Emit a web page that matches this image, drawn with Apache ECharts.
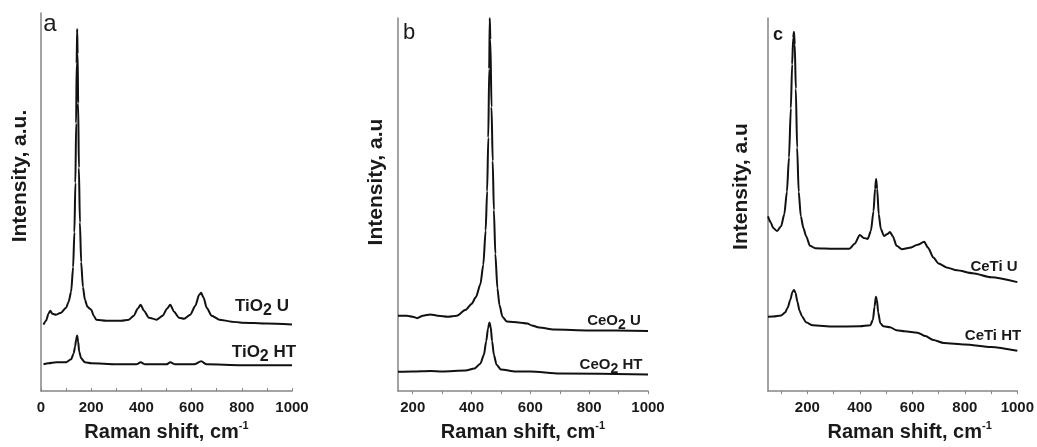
<!DOCTYPE html>
<html>
<head>
<meta charset="utf-8">
<script src="https://cdn.jsdelivr.net/npm/echarts@6/dist/echarts.min.js"></script>
<style>html,body{margin:0;padding:0;background:#fff}#c{width:1037px;height:447px}</style>
</head>
<body>
<div id="c"></div>
<script>
// ---- data (Raman shift, cm-1 ; intensity a.u.) ----
const tio2U = [[10,67],[20,71],[30,78],[37,81],[45,78],[60,77],[80,79],[100,84],[110,90],[120,100],[128,125],[133,160],[137,210],[140,270],[142,330],[144,365],[146,340],[148,290],[151,225],[155,170],[160,130],[167,105],[175,92],[185,85],[195,83],[200,82],[210,76],[220,72],[260,71],[320,71],[350,72],[370,76],[385,83],[397,87],[410,81],[430,74],[460,72],[485,76],[502,83],[515,87],[530,80],[550,74],[570,73],[595,77],[615,86],[630,97],[638,99],[648,94],[660,84],[680,76],[710,72],[760,70],[800,69],[900,68],[1000,67]];
const tio2HT = [[10,27],[30,28],[60,29],[100,29],[120,32],[130,38],[136,45],[140,52],[144,56],[148,50],[152,40],[160,33],[175,29],[200,28],[300,27],[380,27],[397,29],[415,27],[500,27],[515,29],[535,27],[610,27],[638,30],[660,27],[800,26],[1000,26]];
const ceo2U = [[150,77],[180,77],[200,76],[215,74.5],[235,77],[260,78.3],[285,77],[320,76],[350,77],[380,83],[400,89],[415,96],[430,109],[440,129],[448,164],[453,204],[457,259],[460,329],[462,381],[464,359],[468,290],[472,235],[476,185],[481,140],[488,105],[495,88],[505,76],[520,71],[560,70],[590,69],[605,67],[630,65],[680,63],[800,62],[1000,61.5]];
const ceo2HT = [[150,19.7],[200,20],[260,20.5],[300,20],[380,21],[410,23],[430,28],[442,37],[450,51],[456,64],[461,70],[465,66],[470,51],[476,37],[485,27],[500,22],[550,20],[600,20],[700,18],[1000,17]];
const cetiU = [[50,178],[60,172],[70,166],[85,163],[100,168],[112,180],[122,203],[130,238],[137,288],[142,333],[146,360],[149,366],[152,353],[156,308],[161,248],[167,203],[175,178],[185,166],[195,158],[210,148],[230,145.5],[300,145],[360,145],[380,150],[400,159],[415,156],[430,155],[442,163],[452,183],[458,206],[462,216],[466,206],[472,180],[480,165],[492,158],[505,160],[515,162],[525,158],[540,148],[560,144.5],[590,146],[620,149],[645,152],[660,146],[680,136],[700,130],[730,126],[770,123],[830,120],[900,116],[1000,111]];
const cetiHT = [[50,75.7],[70,76],[100,77],[115,80],[125,85],[135,93],[143,101],[149,103],[155,100],[162,91],[170,82],[180,76],[195,70],[220,67],[300,65.7],[400,66],[440,67],[450,73],[456,86],[461,96],[465,93],[470,80],[478,69],[490,66],[515,65],[540,62],[570,61],[620,59.5],[650,56],[680,52],[720,49],[800,47.5],[900,45],[1000,41]];

const xTicksA = [0,100,200,300,400,500,600,700,800,900,1000];
const xLabelsA = [0,200,400,600,800,1000];
const xTicksB = [200,300,400,500,600,700,800,900,1000];
const xLabelsB = [200,400,600,800,1000];
const xTicksC = [100,200,300,400,500,600,700,800,900,1000];
const xLabelsC = [200,400,600,800,1000];

const xRangeA = [0,1000], xRangeB = [150,1000], xRangeC = [50,1000];
const yMaxA = 381, yMaxB = 381, yMaxC = 380;

const yNames = ['Intensity, a.u.', 'Intensity, a.u', 'Intensity, a.u'];
const seriesNames = ['TiO2 U','TiO2 HT','CeO2 U','CeO2 HT','CeTi U','CeTi HT'];

// ---- chart ----
const FONT = '"Liberation Sans", Arial, sans-serif';
const AX = '#858585';
const chart = echarts.init(document.getElementById('c'), null, {renderer: 'canvas'});

function xAxis(idx, range, ticks, labels, inside, namePad) {
  return {
    type: 'value', gridIndex: idx, min: range[0], max: range[1],
    axisLine: {show: true, lineStyle: {color: AX, width: 1.5}},
    axisTick: {show: true, inside: inside, length: 3, customValues: ticks, lineStyle: {color: AX, width: 1}},
    axisLabel: {customValues: labels, formatter: function (v) { return String(v); },
      fontFamily: FONT, fontWeight: 'bold', fontSize: 15, color: '#1a1a1a', margin: 9},
    splitLine: {show: false},
    name: '{t|Raman shift, cm}{s|-1}', nameLocation: 'middle', nameGap: 26,
    nameTextStyle: {padding: namePad, rich: {
      t: {fontFamily: FONT, fontWeight: 'bold', fontSize: 20, color: '#1a1a1a', lineHeight: 24},
      s: {fontFamily: FONT, fontWeight: 'bold', fontSize: 11, color: '#1a1a1a', verticalAlign: 'top', lineHeight: 12}
    }}
  };
}
function yAxis(idx, max, name, gap, shift) {
  return {
    type: 'value', gridIndex: idx, min: 0, max: max,
    axisLine: {show: true, lineStyle: {color: AX, width: 1.5}},
    axisTick: {show: false}, axisLabel: {show: false}, splitLine: {show: false},
    name: name, nameLocation: 'middle', nameGap: gap,
    nameTextStyle: {fontFamily: FONT, fontWeight: 'bold', fontSize: 21, color: '#1a1a1a', padding: [0, 0, 0, shift]}
  };
}
function line(name, data, idx) {
  return {
    name: name, type: 'line', xAxisIndex: idx, yAxisIndex: idx, data: data,
    showSymbol: false, symbol: 'none', smooth: 0.25, smoothMonotone: 'x',
    lineStyle: {color: '#111', width: 2}, clip: true, silent: true
  };
}
function lbl(x, y, main, sub, rest, size) {
  return {
    type: 'text', x: x, y: y, silent: true,
    style: {
      text: sub ? '{n|' + main + '}{b|' + sub + '}{n|' + rest + '}' : '{n|' + main + rest + '}',
      align: 'center', verticalAlign: 'middle',
      rich: {
        n: {fontFamily: FONT, fontWeight: 'bold', fontSize: size, fill: '#1a1a1a', lineHeight: size + 8},
        b: {fontFamily: FONT, fontWeight: 'bold', fontSize: size - 1, fill: '#1a1a1a', verticalAlign: 'bottom', lineHeight: size}
      }
    }
  };
}
function letter(x, y, t, size, weight) {
  return {type: 'text', x: x, y: y, silent: true,
    style: {text: t, fontFamily: FONT, fontSize: size, fontWeight: weight, fill: '#1a1a1a', align: 'center', verticalAlign: 'middle'}};
}

chart.setOption({
  animation: false,
  backgroundColor: '#fff',
  grid: [
    {left: 41, top: 13, width: 251, height: 381},
    {left: 398, top: 18, width: 250, height: 381},
    {left: 768, top: 18, width: 251, height: 380}
  ],
  xAxis: [
    xAxis(0, xRangeA, xTicksA, xLabelsA, true, [0,0,0,0]),
    xAxis(1, xRangeB, xTicksB, xLabelsB, false, [0,0,0,0]),
    xAxis(2, xRangeC, xTicksC, xLabelsC, false, [0,0,0,34])
  ],
  yAxis: [
    yAxis(0, yMaxA, yNames[0], 10, 52),
    yAxis(1, yMaxB, yNames[1], 11, 45),
    yAxis(2, yMaxC, yNames[2], 16, 36)
  ],
  series: [
    line(seriesNames[0], tio2U, 0), line(seriesNames[1], tio2HT, 0),
    line(seriesNames[2], ceo2U, 1), line(seriesNames[3], ceo2HT, 1),
    line(seriesNames[4], cetiU, 2), line(seriesNames[5], cetiHT, 2)
  ],
  graphic: [
    letter(50, 24, 'a', 24, 'normal'),
    letter(409, 33, 'b', 22, 'normal'),
    letter(778, 35, 'c', 18, 'bold'),
    lbl(262, 306, 'TiO', '2', ' U', 17),
    lbl(264, 352, 'TiO', '2', ' HT', 17),
    lbl(614, 321, 'CeO', '2', ' U', 15),
    lbl(611, 365, 'CeO', '2', ' HT', 15),
    lbl(994, 267, 'CeTi U', '', '', 15),
    lbl(993, 336, 'CeTi HT', '', '', 15)
  ]
});
</script>
</body>
</html>
